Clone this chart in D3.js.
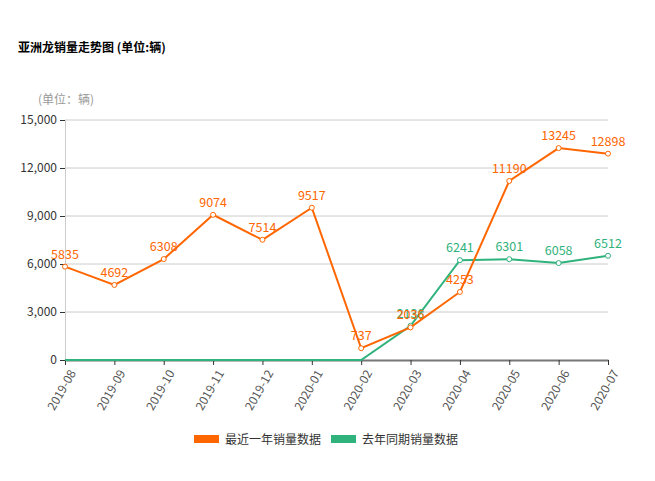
<!DOCTYPE html>
<html><head><meta charset="utf-8">
<script src="https://cdn.jsdelivr.net/npm/d3@7/dist/d3.min.js"></script>
<style>
body{margin:0;background:#fff;}
text{font-family:"Microsoft YaHei","Noto Sans CJK SC",sans-serif;}
</style></head>
<body><svg id="c" width="655" height="481"></svg>
<script>
const categories = ["2019-08","2019-09","2019-10","2019-11","2019-12","2020-01","2020-02","2020-03","2020-04","2020-05","2020-06","2020-07"];
const recentYear = [5835,4692,6308,9074,7514,9517,737,2036,4253,11190,13245,12898];
const lastYear = [0,0,0,0,0,0,0,2138,6241,6301,6058,6512];
const yTicks = [0,3000,6000,9000,12000,15000];
const seriesNames = ["最近一年销量数据","去年同期销量数据"];
const colors = ["#ff6600","#2fb27c"];

const svg = d3.select("#c");
const x = d3.scalePoint().domain(categories).range([65,608]);
const y = d3.scaleLinear().domain([0,15000]).range([360,120]);

svg.append("text").attr("x",18).attr("y",52).attr("font-size",12).attr("font-weight","bold").attr("fill","#000").text("亚洲龙销量走势图 (单位:辆)");
svg.append("text").attr("x",38).attr("y",104).attr("font-size",12).attr("fill","#999").text("(单位：辆)");

// grid
svg.append("g").selectAll("line").data(yTicks.filter(d=>d>0)).join("line")
  .attr("x1",65).attr("x2",608).attr("y1",d=>y(d)).attr("y2",d=>y(d))
  .attr("stroke","#ccc").attr("stroke-width",1);

// y axis
const ya = svg.append("g").attr("transform","translate(65,0)")
  .call(d3.axisLeft(y).tickValues(yTicks).tickFormat(d3.format(",")).tickSize(5).tickPadding(3));
ya.select(".domain").attr("stroke","#ccc");
ya.selectAll(".tick line").attr("stroke","#333");
ya.selectAll(".tick text").attr("font-size",12).attr("fill","#333").attr("font-family","Microsoft YaHei, Noto Sans CJK SC, sans-serif");

// x axis
const xa = svg.append("g").attr("transform","translate(0,360)")
  .call(d3.axisBottom(x).tickSize(5).tickSizeOuter(0));
xa.select(".domain").attr("stroke","#777").attr("stroke-width",2);
xa.selectAll(".tick line").attr("stroke","#333");
xa.selectAll(".tick text").attr("font-size",12).attr("fill","#555")
  .attr("font-family","Microsoft YaHei, Noto Sans CJK SC, sans-serif")
  .attr("text-anchor","end").attr("dy",0).attr("dx",0)
  .attr("transform","translate(4,9) rotate(-60)");

function drawSeries(vals,color,showZero){
  const pts = vals.map((v,i)=>({c:categories[i],v}));
  svg.append("path").datum(pts)
    .attr("d",d3.line().x(d=>x(d.c)).y(d=>y(d.v)))
    .attr("fill","none").attr("stroke",color).attr("stroke-width",2);
  const shown = pts.filter(d=>showZero||d.v>0);
  svg.append("g").selectAll("circle").data(shown).join("circle")
    .attr("cx",d=>x(d.c)).attr("cy",d=>y(d.v)).attr("r",2.5)
    .attr("fill","#fff").attr("stroke",color).attr("stroke-width",1);
  svg.append("g").selectAll("text").data(shown).join("text")
    .attr("x",d=>x(d.c)).attr("y",d=>y(d.v)-8).attr("text-anchor","middle")
    .attr("font-size",12.5).attr("fill",color).text(d=>d.v);
}
drawSeries(lastYear,colors[1],false);
drawSeries(recentYear,colors[0],true);

// legend
const lg = svg.append("g");
const lx = [194,331];
seriesNames.forEach((n,i)=>{
  lg.append("rect").attr("x",lx[i]).attr("y",435).attr("width",25).attr("height",8).attr("fill",colors[i]);
  lg.append("text").attr("x",lx[i]+31).attr("y",443.5).attr("font-size",12).attr("fill","#333").text(n);
});
</script></body></html>
